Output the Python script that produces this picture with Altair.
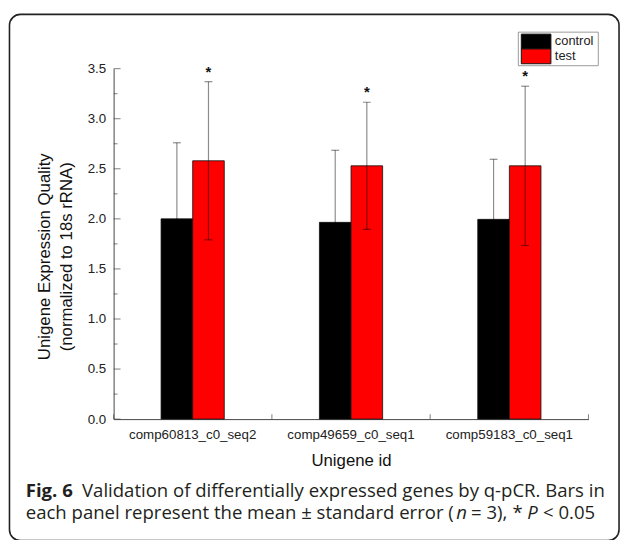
import altair as alt
import pandas as pd

genes = ["comp60813_c0_seq2", "comp49659_c0_seq1", "comp59183_c0_seq1"]
groups = ["control", "test"]
control_mean = [2.00, 1.965, 1.995]
control_err = [0.76, 0.72, 0.60]
test_mean = [2.58, 2.53, 2.53]
test_err = [0.79, 0.635, 0.795]
significant = [True, True, True]
y_major = [0, 0.5, 1.0, 1.5, 2.0, 2.5, 3.0, 3.5]
y_minor = [0.25, 0.75, 1.25, 1.75, 2.25, 2.75, 3.25]
x_bounds = [0, 1, 2, 3]
y_title = ["Unigene Expression Quality", "(normalized to 18s rRNA)"]
caption_bold = "Fig. 6"
caption_line1 = "Validation of differentially expressed genes by q-pCR. Bars in"
caption_line2 = ["each panel represent the mean \u00b1 standard error (", "n", "= 3),", "*", "P", "< 0.05"]
caption_line2_style = ["normal", "italic", "normal", "normal", "italic", "normal"]

rows = []
for i, g in enumerate(genes):
    rows.append({"gene": g, "group": "control", "mean": control_mean[i], "err": control_err[i], "sig": False})
    rows.append({"gene": g, "group": "test", "mean": test_mean[i], "err": test_err[i], "sig": significant[i]})
df = pd.DataFrame(rows)

W, H = 481, 355
FONT = "Liberation Sans"
CAP_FONT = "Open Sans"
CAP_SIZE = 18.8

fill_scale = alt.Scale(domain=groups, range=["#000000", "#ff0000"])
xscale = alt.Scale(paddingInner=0.2015, paddingOuter=0.1)
xenc = alt.X("gene:N", sort=genes, scale=xscale,
             axis=alt.Axis(ticks=False, labelAngle=0, labelFontSize=13.5, labelFont=FONT,
                           labelColor="#222", labelPadding=9, domainColor="#444", domainWidth=1,
                           title="Unigene id", titleFont=FONT, titleFontSize=17,
                           titleFontWeight="normal", titleColor="#111", titleY=42,
                           titleBaseline="middle"))
offscale = alt.Scale(paddingOuter=1, paddingInner=0)
xoff = alt.XOffset("group:N", sort=groups, scale=offscale)
yscale = alt.Scale(domain=[0, 3.5], nice=False, zero=True)
yaxis = alt.Axis(values=y_major, format=".1f", ticks=False, grid=False, labelFontSize=13.5,
                 labelFont=FONT, labelColor="#222", labelPadding=8, domainColor="#444",
                 domainWidth=1, title=y_title, titleFont=FONT, titleFontSize=17,
                 titleFontWeight="normal", titleColor="#111", titleAngle=270, titleX=-70,
                 titleY=190, titleAlign="center", titleBaseline="middle", titleLineHeight=22)

base = alt.Chart(df)

bars = base.mark_bar(stroke="#111", strokeWidth=0.8).encode(
    x=xenc,
    xOffset=xoff,
    y=alt.Y("mean:Q", scale=yscale, axis=yaxis),
    fill=alt.Fill("group:N", sort=groups, scale=fill_scale, legend=None),
)

err = base.transform_calculate(lo="datum.mean - datum.err", hi="datum.mean + datum.err")
xe = alt.X("gene:N", sort=genes, scale=xscale)
xo = alt.XOffset("group:N", sort=groups, scale=offscale)

rules = err.mark_rule(color="#000", opacity=0.45, strokeWidth=1.2).encode(
    x=xe, xOffset=xo, y="lo:Q", y2="hi:Q")
caps_hi = err.mark_tick(color="#000", opacity=0.45, thickness=1.2, size=8, orient="horizontal").encode(
    x=xe, xOffset=xo, y="hi:Q")
caps_lo = err.mark_tick(color="#000", opacity=0.45, thickness=1.2, size=8, orient="horizontal").encode(
    x=xe, xOffset=xo, y="lo:Q")

stars = err.transform_filter("datum.sig").transform_calculate(star="datum.hi + 0.13").mark_text(
    text="*", font=FONT, fontSize=15, fontWeight="bold", color="#111", baseline="alphabetic", dy=8
).encode(x=xe, xOffset=xo, y="star:Q")

ymaj = alt.Chart(pd.DataFrame({"v": y_major})).mark_tick(
    orient="horizontal", color="#444", thickness=1, size=7).encode(
    y=alt.Y("v:Q", scale=yscale), x=alt.value(3.5))
ymin = alt.Chart(pd.DataFrame({"v": y_minor})).mark_tick(
    orient="horizontal", color="#444", thickness=1, size=4).encode(
    y=alt.Y("v:Q", scale=yscale), x=alt.value(2))

# legend (drawn as marks)
one = pd.DataFrame({"k": [0]})
leg_box = alt.Chart(one).mark_rect(fill="white", stroke="#999", strokeWidth=1).encode(
    x=alt.value(410), x2=alt.value(491), y=alt.value(-37), y2=alt.value(-3))
leg_base = alt.Chart(pd.DataFrame({"group": groups})).transform_window(
    rn="row_number()").transform_calculate(
    ly="-50 + 15 * datum.rn", ly2="-35 + 15 * datum.rn", lm="-42.5 + 15 * datum.rn")
leg_sw = leg_base.mark_rect(stroke="#111", strokeWidth=1).encode(
    x=alt.value(413), x2=alt.value(443),
    y=alt.Y("ly:Q", scale=None), y2=alt.Y2("ly2:Q"),
    fill=alt.Fill("group:N", sort=groups, scale=fill_scale, legend=None))
leg_tx = leg_base.mark_text(font=FONT, fontSize=13, color="#222", align="left",
                            baseline="middle").encode(
    x=alt.value(447), y=alt.Y("lm:Q", scale=None), text="group:N")

inner = alt.layer(bars, rules, caps_hi, caps_lo, stars, ymaj, ymin, leg_box, leg_sw, leg_tx)

xt = alt.Chart(pd.DataFrame({"b": x_bounds})).mark_tick(
    orient="vertical", color="#444", thickness=1, size=5).encode(
    x=alt.X("b:Q", scale=alt.Scale(domain=[0, 3], nice=False, zero=False), axis=None),
    y=alt.value(H - 2.5))

frame = alt.Chart(one).mark_rect(fill="transparent", stroke="#222", strokeWidth=1.6,
                                 cornerRadius=11).encode(
    x=alt.value(-105.5), x2=alt.value(512), y=alt.value(-55), y2=alt.value(478))

cap_b = alt.Chart(pd.DataFrame({"t": [caption_bold]})).mark_text(
    font=CAP_FONT, fontSize=CAP_SIZE, fontWeight="bold",
    align="left", baseline="alphabetic", color="#231f20").encode(
    text="t:N", x=alt.value(-89), y=alt.value(434))
cap_l1 = alt.Chart(pd.DataFrame({"t": [caption_line1]})).mark_text(
    font=CAP_FONT, fontSize=CAP_SIZE, align="left", baseline="alphabetic", color="#231f20").encode(
    text="t:N", x=alt.value(-32), y=alt.value(434))

l2_x = [-89, 347, 362, 404, 419, 435]
l2_df = pd.DataFrame({"t": caption_line2, "px": l2_x, "st": caption_line2_style})
cap_l2n = alt.Chart(l2_df).transform_filter("datum.st == 'normal'").mark_text(
    font=CAP_FONT, fontSize=CAP_SIZE, align="left", baseline="alphabetic", color="#231f20").encode(
    text="t:N", x=alt.X("px:Q", scale=None), y=alt.value(456))
cap_l2i = alt.Chart(l2_df).transform_filter("datum.st == 'italic'").mark_text(
    font=CAP_FONT, fontSize=CAP_SIZE, fontStyle="italic", align="left", baseline="alphabetic",
    color="#231f20").encode(
    text="t:N", x=alt.X("px:Q", scale=None), y=alt.value(456))

chart = alt.layer(inner, xt, frame, cap_b, cap_l1, cap_l2n, cap_l2i).resolve_scale(x="independent").properties(
    width=W, height=H,
    autosize=alt.AutoSizeParams(type="none"),
    padding={"left": 107, "top": 58, "right": 33, "bottom": 119},
    background="white",
).configure_view(stroke=None)

chart.save("out.html", embed_options={"renderer": "svg", "actions": False})
